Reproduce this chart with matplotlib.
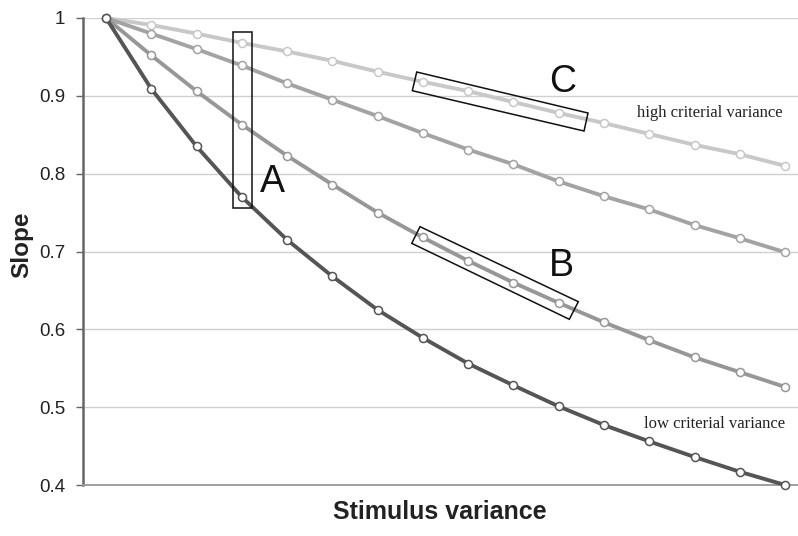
import numpy as np
import matplotlib.pyplot as plt
from matplotlib.patches import Polygon, Rectangle

# stimulus variance steps (categories)
steps = np.arange(16)

# slope per criterial-variance level
slope_high = [1.0, 0.991, 0.980, 0.968, 0.957, 0.945, 0.931, 0.918,
              0.906, 0.892, 0.878, 0.865, 0.851, 0.837, 0.825, 0.810]
slope_mid_high = [1.0, 0.980, 0.960, 0.939, 0.916, 0.895, 0.874, 0.852,
                  0.831, 0.812, 0.790, 0.771, 0.754, 0.734, 0.717, 0.699]
slope_mid_low = [1.0, 0.952, 0.906, 0.863, 0.823, 0.786, 0.750, 0.718,
                 0.688, 0.660, 0.634, 0.609, 0.586, 0.564, 0.545, 0.526]
slope_low = [1.0, 0.909, 0.835, 0.770, 0.715, 0.668, 0.625, 0.589,
             0.556, 0.528, 0.501, 0.477, 0.456, 0.436, 0.417, 0.400]

y_ticks = [0.4, 0.5, 0.6, 0.7, 0.8, 0.9, 1.0]
y_labels = ["0.4", "0.5", "0.6", "0.7", "0.8", "0.9", "1"]

series = [
    (slope_high, "#c8c8c8"),
    (slope_mid_high, "#a3a3a3"),
    (slope_mid_low, "#979797"),
    (slope_low, "#555555"),
]

fig = plt.figure(figsize=(7.98, 5.36), dpi=100)
ax = fig.add_axes([83.4 / 798, 1 - 485 / 536, 724.3 / 798, 467 / 536])

for vals, col in series:
    ax.plot(steps, vals, color=col, lw=2.8, marker="o", ms=5.8,
            mfc="white", mec=col, mew=1.1, zorder=3, clip_on=False)

ax.set_xlim(-0.5, 15.5)
ax.set_ylim(0.4, 1.0)
ax.set_yticks(y_ticks)
ax.set_yticklabels(y_labels, fontsize=13.5, color="#222222",
                   family="Liberation Sans")
ax.set_xticks([])
ax.tick_params(axis="y", length=5, width=1, color="#666666", pad=8)
ax.grid(axis="y", color="#d0d0d0", lw=1.0, zorder=0)
ax.axhline(1.0, color="#999999", lw=1.3, zorder=1)

for s in ["top", "right"]:
    ax.spines[s].set_visible(False)
ax.spines["left"].set_color("#666666")
ax.spines["left"].set_linewidth(1.8)
ax.spines["bottom"].set_color("#999999")
ax.spines["bottom"].set_linewidth(1.3)

# annotation boxes
ax.add_patch(Rectangle((2.80, 0.7554), 0.42, 0.2262, fill=False,
                       ec="#111111", lw=1.1, zorder=4, clip_on=False))
box_b = [(6.936, 0.7319), (10.433, 0.6355), (10.234, 0.6129), (6.753, 0.7105)]
box_c = [(6.863, 0.9306), (10.647, 0.8779), (10.559, 0.8548), (6.766, 0.9066)]
for pts in (box_b, box_c):
    ax.add_patch(Polygon(pts, closed=True, fill=False, ec="#111111",
                         lw=1.1, zorder=4))

for lbl, x, y in [("A", 3.67, 0.789), ("B", 10.05, 0.6814), ("C", 10.09, 0.9178)]:
    ax.text(x, y, lbl, fontsize=27, family="Liberation Sans",
            color="#111111", ha="center", va="center")

ax.text(14.95, 0.878, "high criterial variance", fontsize=12,
        family="Liberation Serif", color="#222222", ha="right", va="center")
ax.text(15.0, 0.479, "low criterial variance", fontsize=12,
        family="Liberation Serif", color="#222222", ha="right", va="center")

fig.text(22 / 798, 1 - 245 / 536, "Slope", rotation=90, fontsize=17.5,
         fontweight="bold", family="Liberation Sans", color="#222222",
         ha="center", va="center")
fig.text(440 / 798, 1 - 512 / 536, "Stimulus variance", fontsize=18,
         fontweight="bold", family="Liberation Sans", color="#222222",
         ha="center", va="center")

fig.savefig("out.png", dpi=100)
